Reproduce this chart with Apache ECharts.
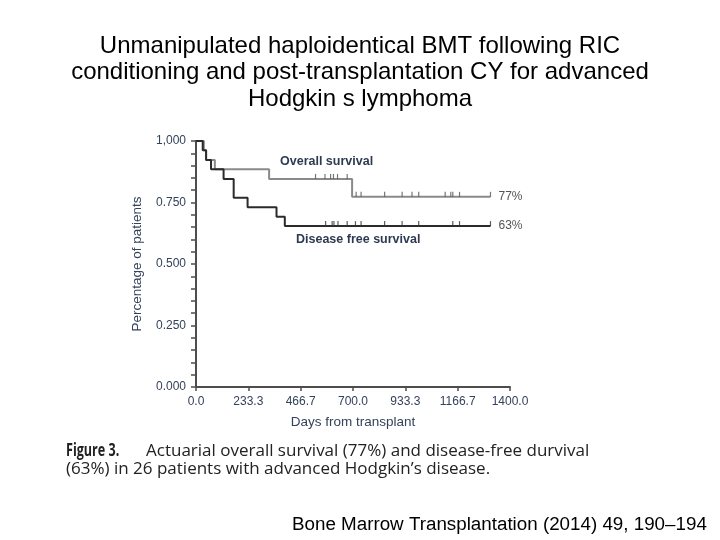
<!DOCTYPE html>
<html>
<head>
<meta charset="utf-8">
<script src="https://cdn.jsdelivr.net/npm/echarts@6/dist/echarts.min.js"></script>
<style>
html,body{margin:0;padding:0;background:#fff;}
#chart{width:720px;height:540px;}
</style>
</head>
<body>
<div id="chart"></div>
<script>
// ---- data ----
const titleLines = [
  'Unmanipulated haploidentical BMT following RIC',
  'conditioning and post-transplantation CY for advanced',
  'Hodgkin s lymphoma'
];
const xTickValues = [0, 233.3, 466.7, 700.0, 933.3, 1166.7, 1400.0];
const yTickLabels = ['0.000', '0.250', '0.500', '0.750', '1,000'];

// Overall survival (Kaplan-Meier steps): time in days, survival fraction
const osTimes = [0, 35, 45, 84, 326, 696, 1313];
const osSurv  = [1.000, 0.962, 0.923, 0.885, 0.846, 0.773, 0.773];
// Disease-free survival
const dfsTimes = [0, 30, 45, 67, 123, 168, 230, 359, 396, 1313];
const dfsSurv  = [1.000, 0.962, 0.923, 0.885, 0.846, 0.769, 0.731, 0.692, 0.654, 0.654];
// censored observations (days)
const osCensor  = [533, 575, 600, 613, 631, 674, 714, 736, 841, 919, 963, 993, 1111, 1136, 1145, 1175, 1313];
const dfsCensor = [578, 607, 615, 633, 674, 711, 736, 841, 919, 993, 1145, 1175, 1313];
const osEndText = '77%';
const dfsEndText = '63%';

function survAt(times, surv, t) {
  let v = surv[0];
  for (let i = 0; i < times.length; i++) { if (times[i] <= t) v = surv[i]; }
  return v;
}
const osData = osTimes.map((t, i) => [t, osSurv[i]]);
const dfsData = dfsTimes.map((t, i) => [t, dfsSurv[i]]);
const osCensorData = osCensor.map(t => [t, survAt(osTimes, osSurv, t)]);
const dfsCensorData = dfsCensor.map(t => [t, survAt(dfsTimes, dfsSurv, t)]);

const axisColor = '#4d4d4d';
const labelColor = '#34425a';
const osColor = '#8a8a8a';
const dfsColor = '#2b2b2b';
const sixth = 1400 / 6;

const chart = echarts.init(document.getElementById('chart'), null, {renderer: 'canvas'});
chart.setOption({
  animation: false,
  backgroundColor: '#ffffff',
  title: {
    text: titleLines.join('\n'),
    left: 'center',
    top: 28,
    textStyle: {fontFamily: 'Liberation Sans', fontSize: 24, fontWeight: 'normal', color: '#000', lineHeight: 26.5}
  },
  grid: {left: 196, right: 210, top: 141, bottom: 153, containLabel: false},
  xAxis: {
    type: 'value', min: 0, max: 6, interval: 1,
    name: 'Days from transplant', nameLocation: 'middle', nameGap: 28,
    nameTextStyle: {fontFamily: 'Liberation Sans', fontSize: 13.5, color: labelColor},
    axisLine: {lineStyle: {color: axisColor, width: 2}},
    axisTick: {show: true, length: 4, lineStyle: {color: axisColor, width: 1.5}},
    axisLabel: {margin: 9, fontFamily: 'Liberation Sans', fontSize: 12, color: labelColor,
      formatter: v => xTickValues[Math.round(v)].toFixed(1)},
    splitLine: {show: false}
  },
  yAxis: {
    type: 'value', min: 0, max: 1, interval: 0.25,
    name: 'Percentage of patients', nameLocation: 'middle', nameGap: 52,
    nameTextStyle: {fontFamily: 'Liberation Sans', fontSize: 13.5, color: labelColor},
    axisLine: {show: true, lineStyle: {color: axisColor, width: 2}},
    axisTick: {show: true, length: 5, lineStyle: {color: axisColor, width: 1.5}},
    minorTick: {show: true, splitNumber: 5, length: 5, lineStyle: {color: axisColor, width: 1.5}},
    axisLabel: {margin: 10, fontFamily: 'Liberation Sans', fontSize: 12, color: labelColor,
      formatter: v => yTickLabels[Math.round(v * 4)]},
    splitLine: {show: false}
  },
  series: [
    {
      name: 'Overall survival', type: 'line', step: 'end', symbol: 'none',
      data: osData.map(p => [p[0] / sixth, p[1]]),
      lineStyle: {color: osColor, width: 2},
      endLabel: {show: true, formatter: osEndText, distance: 8, fontFamily: 'Liberation Sans', fontSize: 12, color: '#555'},
      z: 2
    },
    {
      name: 'Disease free survival', type: 'line', step: 'end', symbol: 'none',
      data: dfsData.map(p => [p[0] / sixth, p[1]]),
      lineStyle: {color: dfsColor, width: 2},
      endLabel: {show: true, formatter: dfsEndText, distance: 8, fontFamily: 'Liberation Sans', fontSize: 12, color: '#555'},
      z: 3
    },
    {
      name: 'OS censored', type: 'scatter', symbol: 'rect', symbolSize: [1.2, 5], symbolOffset: [0, -2.5],
      data: osCensorData.map(p => [p[0] / sixth, p[1]]),
      itemStyle: {color: '#555'}, z: 4
    },
    {
      name: 'DFS censored', type: 'scatter', symbol: 'rect', symbolSize: [1.2, 5], symbolOffset: [0, -2.5],
      data: dfsCensorData.map(p => [p[0] / sixth, p[1]]),
      itemStyle: {color: '#333'}, z: 4
    }
  ],
  graphic: [
    {type: 'text', left: 280, top: 155, style: {text: 'Overall survival', fontFamily: 'Liberation Sans', fontSize: 12.5, fontWeight: 'bold', fill: '#2f3a52'}},
    {type: 'text', left: 296, top: 233, style: {text: 'Disease free survival', fontFamily: 'Liberation Sans', fontSize: 12.5, fontWeight: 'bold', fill: '#2f3a52'}},
    {type: 'text', x: 66, y: 443, scaleX: 0.74, style: {text: 'Figure 3.', fontFamily: 'Open Sans', fontSize: 17, fontWeight: 'bold', fill: '#222'}},
    {type: 'text', left: 146, top: 443, style: {text: 'Actuarial overall survival (77%) and disease-free durvival', fontFamily: 'Open Sans', fontSize: 17, fill: '#222'}},
    {type: 'text', left: 66, top: 461, style: {text: '(63%) in 26 patients with advanced Hodgkin\u2019s disease.', fontFamily: 'Open Sans', fontSize: 17, fill: '#222'}},
    {type: 'text', left: 292, top: 515, style: {text: 'Bone Marrow Transplantation (2014) 49, 190\u2013194', fontFamily: 'Liberation Sans', fontSize: 18.8, fill: '#000'}}
  ]
});
</script>
</body>
</html>
